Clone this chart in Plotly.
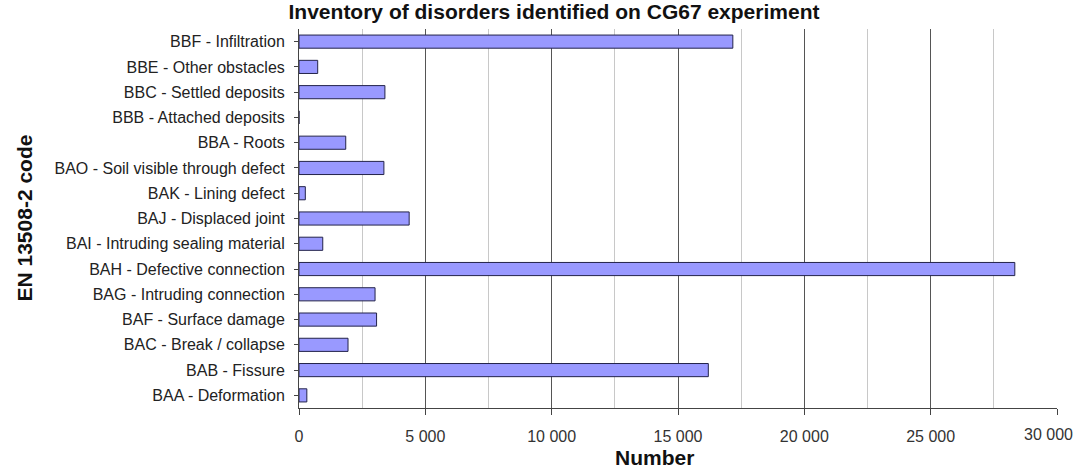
import plotly.graph_objects as go

categories = [
    "BAA - Deformation",
    "BAB - Fissure",
    "BAC - Break / collapse",
    "BAF - Surface damage",
    "BAG - Intruding connection",
    "BAH - Defective connection",
    "BAI - Intruding sealing material",
    "BAJ - Displaced joint",
    "BAK - Lining defect",
    "BAO - Soil visible through defect",
    "BBA - Roots",
    "BBB - Attached deposits",
    "BBC - Settled deposits",
    "BBE - Other obstacles",
    "BBF - Infiltration",
]
counts = [310, 16200, 1940, 3070, 3010, 28330, 940, 4360, 250, 3360, 1850, 0, 3400, 740, 17170]

x_ticks = [0, 5000, 10000, 15000, 20000, 25000]
x_last_tick = 30000

fig = go.Figure()
fig.add_trace(go.Bar(
    x=counts, y=categories, orientation="h",
    marker=dict(color="#9999ff", line=dict(color="#23234a", width=1)),
    showlegend=False,
))

W, H = 1077, 472
L, R, T, B = 299, 20, 29, 64
pw = W - L - R
ph = H - T - B

fig.update_layout(
    width=W, height=H,
    margin=dict(l=L, r=R, t=T, b=B, autoexpand=False),
    paper_bgcolor="white", plot_bgcolor="white",
    separators=". ",
    bargap=0.48,
    font=dict(family="Liberation Sans, Arial, sans-serif", size=16, color="#222"),
    title=dict(text="<b>Inventory of disorders identified on CG67 experiment</b>",
               x=554 / W, xanchor="center", xref="container",
               y=1 - 12 / H, yanchor="middle", yref="container",
               font=dict(size=21, color="#111")),
)
fig.update_xaxes(
    range=[0, 30000], tickvals=x_ticks + [x_last_tick], ticktext=[f"{v:,}".replace(",", " ") for v in x_ticks] + [""],
    showgrid=True, gridcolor="#555", gridwidth=1,
    minor=dict(dtick=2500, showgrid=True, gridcolor="#c8c8c8", gridwidth=1, ticks=""),
    showline=True, linecolor="#444", linewidth=1,
    ticks="outside", ticklen=6, tickcolor="#444",
    ticklabelstandoff=8,
    tickfont=dict(size=16, color="#333"),
    zeroline=False, automargin=False,
)
fig.update_yaxes(
    type="category", categoryorder="array", categoryarray=categories,
    showline=True, linecolor="#444", linewidth=1,
    ticks="outside", ticklen=4, tickcolor="#444",
    ticklabelstandoff=6,
    tickfont=dict(size=16, color="#222"),
    showgrid=False, automargin=False,
)
# last tick label drawn as annotation so it is not dropped at the edge
fig.add_annotation(
    text=f"{x_last_tick:,}".replace(",", " "),
    xref="x", x=x_last_tick, xanchor="right", xshift=18,
    yref="paper", y=-(434 - (H - B)) / ph, yanchor="middle",
    showarrow=False, font=dict(size=16, color="#333"),
)
fig.add_annotation(
    text="<b>EN 13508-2 code</b>", textangle=-90,
    xref="paper", x=(24 - L) / pw, xanchor="center",
    yref="paper", y=0.5, yanchor="middle",
    showarrow=False, font=dict(size=21, color="#111"),
)
fig.add_annotation(
    text="<b>Number</b>",
    xref="paper", x=(654 - L) / pw, xanchor="center",
    yref="paper", y=-(457 - (H - B)) / ph, yanchor="middle",
    showarrow=False, font=dict(size=21, color="#111"),
)
fig.write_html("out.html")
